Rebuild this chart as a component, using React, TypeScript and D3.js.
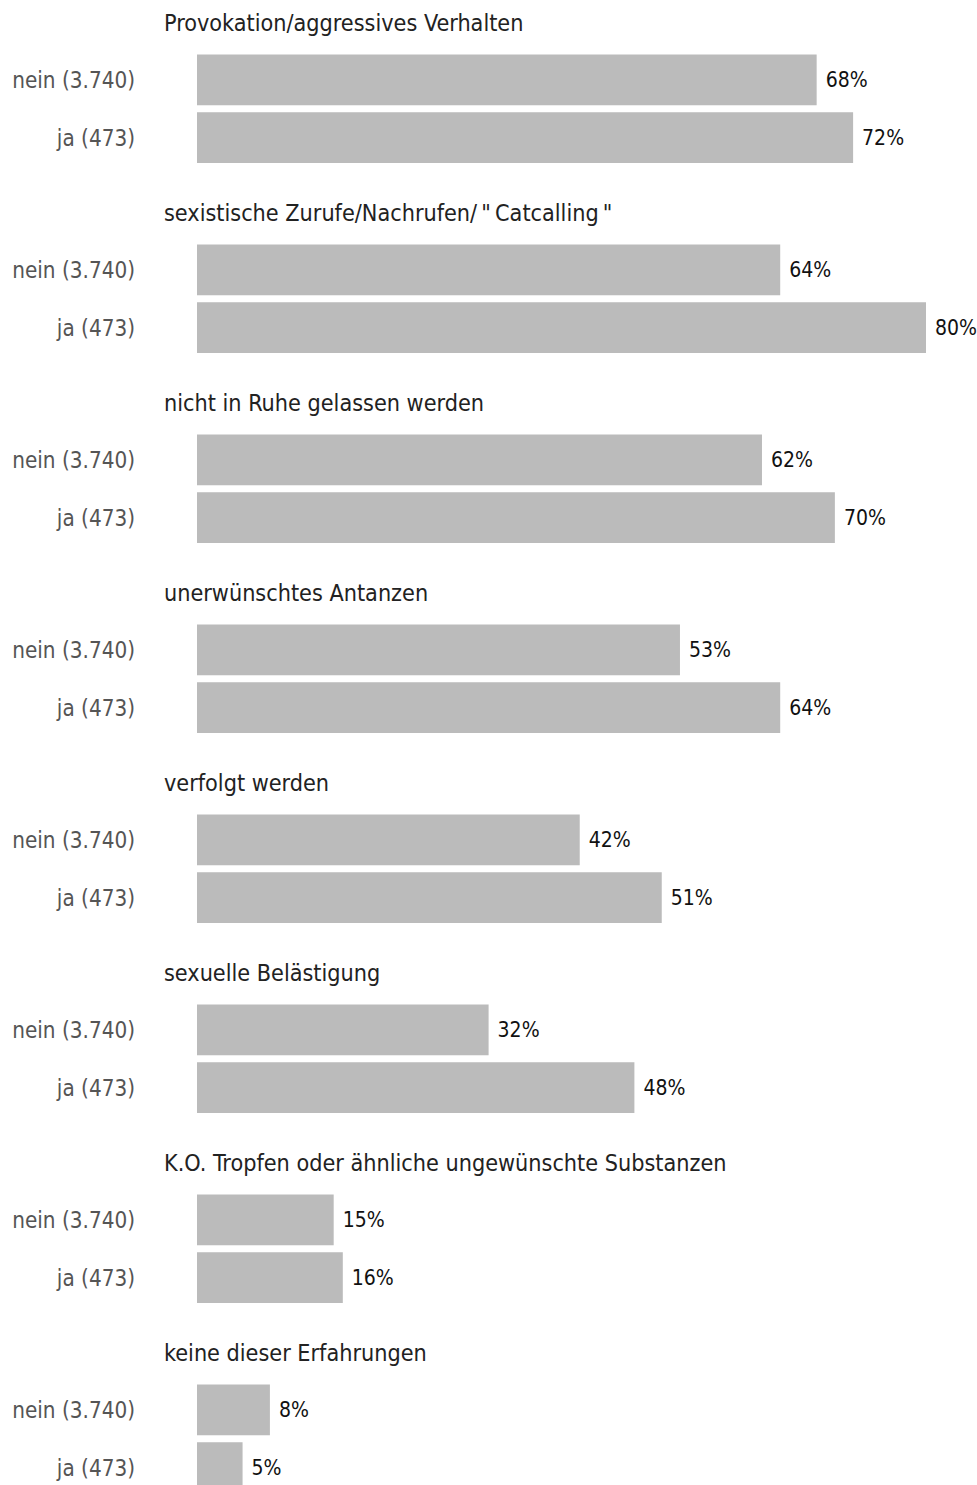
import React from "react";
import * as d3 from "d3";

const categories = [
  "Provokation/aggressives Verhalten",
  "sexistische Zurufe/Nachrufen/\u2009\"\u2009Catcalling\u2009\"",
  "nicht in Ruhe gelassen werden",
  "unerwünschtes Antanzen",
  "verfolgt werden",
  "sexuelle Belästigung",
  "K.O. Tropfen oder ähnliche ungewünschte Substanzen",
  "keine dieser Erfahrungen",
];
const groups = ["nein (3.740)", "ja (473)"];
const neinValues = [68, 64, 62, 53, 42, 32, 15, 8];
const jaValues = [72, 80, 70, 64, 51, 48, 16, 5];

const W = 977;
const H = 1485;
const FONT = "'DejaVu Sans Condensed', 'DejaVu Sans', sans-serif";

export default function App() {
  const x = d3.scaleLinear().domain([0, 80]).range([197, 926]);
  const y = d3
    .scaleBand<string>()
    .domain(categories)
    .range([0, 190 * categories.length]);
  const inner = d3.scaleBand<string>().domain(groups).range([54.5, 163]).paddingInner(0.121);

  return (
    <svg
      width={W}
      height={H}
      style={{ position: "absolute", left: 0, top: 0, background: "#fff" }}
      fontFamily={FONT}
    >
      {categories.map((c, i) => {
        const g0 = y(c)!;
        const vals = [neinValues[i], jaValues[i]];
        return (
          <g key={c} transform={`translate(0,${g0})`}>
            <text x={164} y={22} dominantBaseline="central" fontSize={23.2} fill="#222">
              {c}
            </text>
            {groups.map((gname, j) => {
              const by = inner(gname)!;
              const bh = inner.bandwidth();
              const v = vals[j];
              return (
                <g key={gname}>
                  <text
                    x={135}
                    y={by + bh / 2}
                    textAnchor="end"
                    dominantBaseline="central"
                    fontSize={22.3}
                    fill="#555"
                  >
                    {gname}
                  </text>
                  <rect x={x(0)} y={by} width={x(v) - x(0)} height={bh} fill="#bbbbbb" />
                  <text
                    x={x(v) + 9}
                    y={by + bh / 2}
                    dominantBaseline="central"
                    fontSize={21}
                    fill="#111"
                  >
                    {v}%
                  </text>
                </g>
              );
            })}
          </g>
        );
      })}
    </svg>
  );
}
